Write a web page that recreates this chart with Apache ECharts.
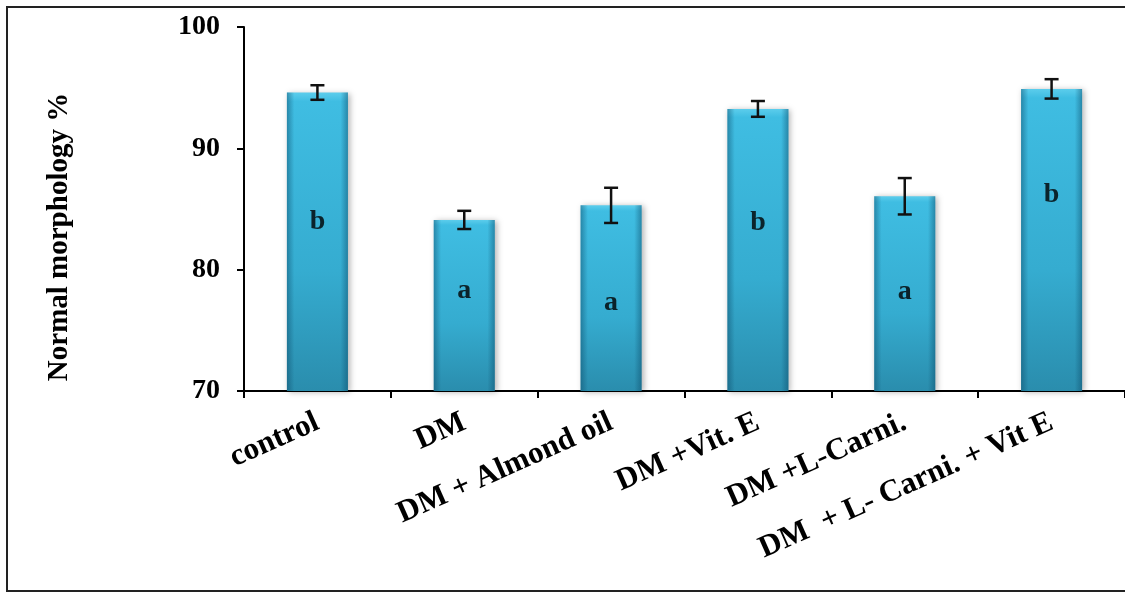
<!DOCTYPE html>
<html>
<head>
<meta charset="utf-8">
<script src="https://cdn.jsdelivr.net/npm/echarts@6/dist/echarts.min.js"></script>
<style>
html,body{margin:0;padding:0;background:#fff;}
#chart{width:1125px;height:593px;}
</style>
</head>
<body>
<div id="chart"></div>
<script>
const categories = ['control', 'DM', 'DM + Almond oil', 'DM +Vit. E', 'DM +L-Carni.', 'DM  + L- Carni. + Vit E'];
const means = [94.6, 84.1, 85.3, 93.25, 86.05, 94.9];
const errors = [0.6, 0.75, 1.45, 0.65, 1.5, 0.8];
const letters = ['b', 'a', 'a', 'b', 'a', 'b'];
const letterY = [83.95, 78.3, 77.25, 83.85, 78.15, 86.15];
const yTicks = [70, 80, 90, 100];

const FONT = '"Liberation Serif", "Times New Roman", serif';
const chart = echarts.init(document.getElementById('chart'));

chart.setOption({
  animation: false,
  backgroundColor: '#fff',
  grid: { left: 244, top: 27, bottom: 202, right: -1, containLabel: false },
  xAxis: {
    type: 'category',
    data: categories,
    axisLine: { lineStyle: { color: '#000', width: 2 } },
    axisTick: { show: true, length: 7, lineStyle: { color: '#000', width: 2 }, alignWithLabel: false },
    axisLabel: {
      interval: 0, rotate: 24, margin: 30,
      fontFamily: FONT, fontWeight: 'bold', fontSize: 31, color: '#000'
    }
  },
  yAxis: {
    type: 'value', min: yTicks[0], max: yTicks[yTicks.length - 1], interval: 10,
    splitLine: { show: false },
    axisLine: { show: true, lineStyle: { color: '#000', width: 2 } },
    axisTick: { show: true, length: 7, lineStyle: { color: '#000', width: 2 } },
    axisLabel: { margin: 24, fontFamily: FONT, fontWeight: 'bold', fontSize: 28, color: '#000' }
  },
  graphic: [
    { type: 'rect', shape: { x: 7, y: 7, width: 1130, height: 584 }, style: { fill: 'none', stroke: '#222', lineWidth: 2 }, z: 0 },
    { type: 'text', x: 60, y: 237, rotation: Math.PI / 2,
      style: { text: 'Normal morphology %', fontFamily: FONT, fontWeight: 'bold', fontSize: 29, fill: '#000', align: 'center', verticalAlign: 'middle' } }
  ],
  series: [
    {
      type: 'bar', data: means, barWidth: 61, z: 2,
      itemStyle: {
        color: new echarts.graphic.LinearGradient(0, 0, 0, 1, [
          { offset: 0, color: '#5ccdec' },
          { offset: 0.03, color: '#3fbde2' },
          { offset: 0.6, color: '#35acd0' },
          { offset: 1, color: '#2a8dad' }
        ]),
        shadowBlur: 6, shadowColor: 'rgba(0,0,0,0.3)', shadowOffsetX: 2, shadowOffsetY: 1
      }
    },
    {
      type: 'bar', data: means, barWidth: 61, barGap: '-100%', z: 3, silent: true,
      itemStyle: {
        color: new echarts.graphic.LinearGradient(0, 0, 1, 0, [
          { offset: 0, color: 'rgba(10,70,100,0.45)' },
          { offset: 0.12, color: 'rgba(10,70,100,0)' },
          { offset: 0.88, color: 'rgba(10,70,100,0)' },
          { offset: 1, color: 'rgba(10,70,100,0.45)' }
        ])
      }
    },
    {
      type: 'custom', z: 5,
      data: means.map((m, i) => [i, m, errors[i]]),
      renderItem: function (params, api) {
        const i = api.value(0), m = api.value(1), e = api.value(2);
        const top = api.coord([i, m + e]);
        const bot = api.coord([i, m - e]);
        const hw = 7;
        const st = { stroke: '#111', lineWidth: 2.5 };
        return {
          type: 'group',
          children: [
            { type: 'line', shape: { x1: top[0], y1: top[1], x2: bot[0], y2: bot[1] }, style: st },
            { type: 'line', shape: { x1: top[0] - hw, y1: top[1], x2: top[0] + hw, y2: top[1] }, style: st },
            { type: 'line', shape: { x1: bot[0] - hw, y1: bot[1], x2: bot[0] + hw, y2: bot[1] }, style: st }
          ]
        };
      }
    },
    {
      type: 'scatter', z: 6, symbolSize: 0,
      data: letterY.map((v, i) => [i, v, letters[i]]),
      label: {
        show: true, position: 'inside',
        formatter: p => p.value[2],
        fontFamily: FONT, fontWeight: 'bold', fontSize: 28, color: '#000'
      }
    }
  ]
});
</script>
</body>
</html>
